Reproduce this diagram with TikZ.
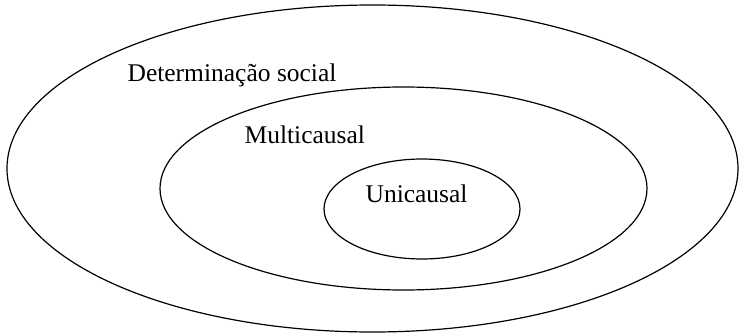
\documentclass[tikz,border=0pt]{standalone}
\usepackage{fontspec}
\setmainfont{Liberation Serif}
\usepackage{tikz}
\usetikzlibrary{calc}

\begin{document}
\begin{tikzpicture}[x=1pt,y=-1pt,line width=1.2pt,
	lbl/.style={anchor=base west,inner sep=0pt,font=\fontsize{25.5}{30}\selectfont}]
					\useasboundingbox (0,0) rectangle (739,334);
					\draw (372.5,168.5) ellipse (365.5 and 163.5);
					\draw (403.5,188.5) ellipse (243.5 and 101.5);
					\draw (422,209) ellipse (98 and 50);
					\node[lbl] (social) at (127,82) {Determinação social};
					\node[lbl] (multi) at (244,144) {Multicausal};
					\node[lbl] (uni) at (365,202) {Unicausal};
					\end{tikzpicture}
\end{document}
